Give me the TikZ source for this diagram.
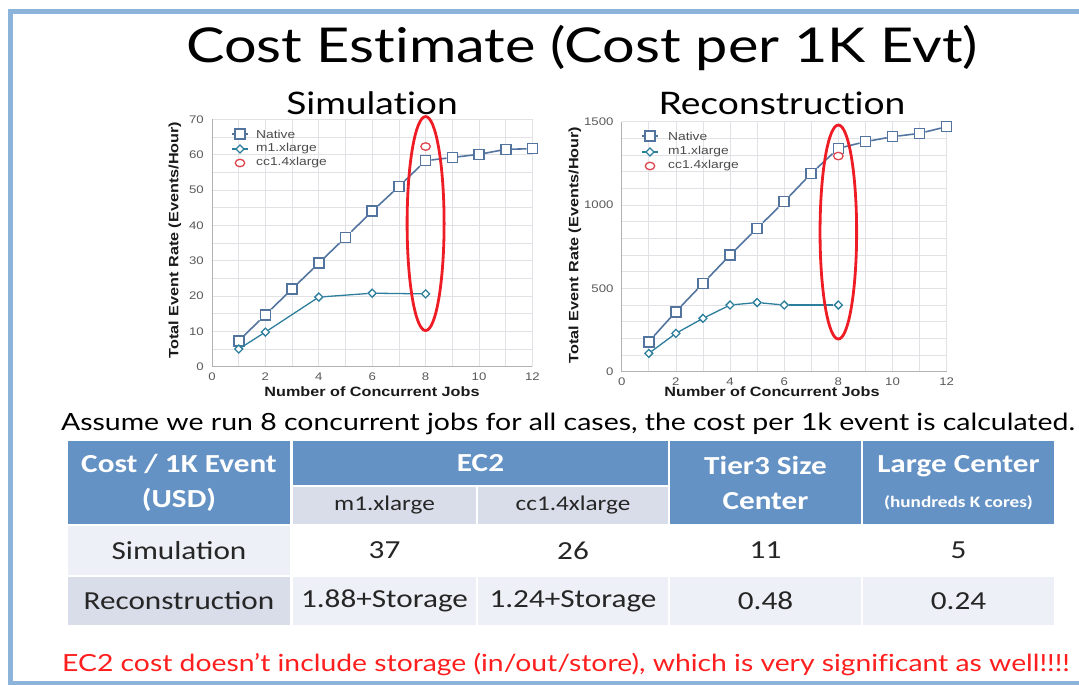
\documentclass[tikz,border=0pt]{standalone}
\usepackage{fontspec}
\setmainfont{Lato}
\newfontfamily\gillfont[FakeStretch=1.2, Ligatures=NoCommon]{Lato}
\newfontfamily\calfont[FakeStretch=1.2]{Carlito}
\newfontfamily\arialfont[FakeStretch=1.2]{Liberation Sans}
\usepackage{tikz}
\usetikzlibrary{shapes.geometric}

\definecolor{framecol}{RGB}{140,180,218}
\definecolor{natcol}{RGB}{84,116,160}
\definecolor{m1col}{RGB}{44,126,156}
\definecolor{cc1col}{RGB}{222,70,80}
\definecolor{ovalred}{RGB}{238,28,36}
\definecolor{gridcol}{RGB}{226,226,230}
\definecolor{hdrblue}{RGB}{101,146,196}
\definecolor{subgray}{RGB}{216,221,233}
\definecolor{rowlight}{RGB}{237,240,246}
\definecolor{warnred}{RGB}{255,30,30}

\begin{document}
\begin{tikzpicture}[x=1pt,y=-1pt,
  natmk/.style={draw=natcol, fill=white, line width=1.6pt, minimum size=10pt, inner sep=0pt},
  m1mk/.style={diamond, draw=m1col, fill=white, line width=1.3pt, minimum size=8.5pt, inner sep=0pt},
  ccmk/.style={ellipse, draw=cc1col, fill=white, line width=1.3pt, minimum width=9.5pt, minimum height=7.5pt, inner sep=0pt},
  natln/.style={natcol, line width=1.6pt},
  m1ln/.style={m1col, line width=1.3pt},
  gridln/.style={gridcol, line width=0.7pt},
  axisln/.style={black!30, line width=0.8pt},
  oval/.style={ellipse, draw=ovalred, line width=2.8pt, inner sep=0pt},
  ticklbl/.style={font=\arialfont\fontsize{11}{11}\selectfont, text=black!65, inner sep=1pt},
  leglbl/.style={font=\arialfont\fontsize{11.5}{12}\selectfont, text=black!70, anchor=west, inner sep=0pt},
  axlbl/.style={font=\arialfont\bfseries\fontsize{13.5}{13.5}\selectfont, text=black!90},
  hdr/.style={fill=hdrblue, draw=white, line width=1.5pt, text=white, align=center, font=\calfont\bfseries\fontsize{26}{35}\selectfont, inner sep=0pt},
  sub/.style={fill=subgray, draw=white, line width=1.5pt, text=black!85, font=\calfont\fontsize{21}{21}\selectfont, inner sep=0pt},
  body/.style={draw=white, line width=1.5pt, text=black!85, font=\calfont\fontsize{26}{26}\selectfont, inner sep=0pt},
]
\useasboundingbox (0,0) rectangle (1079,685);
%\draw[help lines] (0,0) grid (1079,685);
\draw [framecol, line width=5pt] (10,12) rectangle (1110,683);

\node (title) [font=\gillfont\fontsize{48}{48}\selectfont, anchor=base] at (582,63) {Cost Estimate (Cost per 1K Evt)};
\node (simtitle) [font=\gillfont\fontsize{31}{31}\selectfont, anchor=base] at (372,114) {Simulation};
\node (rectitle) [font=\gillfont\fontsize{31}{31}\selectfont, anchor=base] at (782,114) {Reconstruction};

% simulation plot
\begin{scope}[shift={(212,366.7)}, x=26.7pt, y=3.534pt]
\foreach \i in {1,...,12} \draw [gridln] (\i,0) -- (\i,70);
\foreach \j in {5,10,...,70} \draw [gridln] (0,\j) -- (12,\j);
\draw [axisln] (0,70) -- (0,0) -- (12,0);
\foreach \v in {0,10,...,70} \node (sy\v) [ticklbl, anchor=east] at ([xshift=-7pt]0,\v) {\v};
\foreach \v in {0,2,...,12} \node (sx\v) [ticklbl, anchor=north] at ([yshift=-5pt]\v,0) {\v};
\foreach \x/\y [count=\k] in {1/7.3,2/14.7,3/22,4/29.3,5/36.6,6/44,7/51,8/58.3,9/59.2,10/60.1,11/61.5,12/61.7}
  \node (sn\k) [natmk] at (\x,\y) {};
\foreach \k in {1,...,11} {\pgfmathtruncatemacro{\kn}{\k+1} \draw [natln] (sn\k) -- (sn\kn);}
\foreach \x/\y [count=\k] in {1/5,2/9.8,4/19.7,6/20.8,8/20.6}
  \node (sm\k) [m1mk] at (\x,\y) {};
\foreach \k in {1,...,4} {\pgfmathtruncatemacro{\kn}{\k+1} \draw [m1ln] (sm\k) -- (sm\kn);}
\node (sc1) [ccmk] at (8,62.3) {};
\node (soval) [oval, minimum width=37pt, minimum height=214pt] at (8,40.5) {};
\end{scope}
\node (sxlabel) [axlbl] at (372,392) {Number of Concurrent Jobs};
\node (sylabel) [axlbl, rotate=90] at (175,240) {Total Event Rate (Events/Hour)};
\coordinate (sla1) at (232,134); \coordinate (slb1) at (248,134);
\coordinate (sla2) at (232,149); \coordinate (slb2) at (248,149);
\draw [natln] (sla1) -- (slb1);
\draw [m1ln] (sla2) -- (slb2);
\node (sleg1) [natmk] at (240,134) {};
\node (sleg2) [m1mk] at (240,149) {};
\node (sleg3) [ccmk] at (240,163) {};
\node (slt1) [leglbl] at (256,134) {Native};
\node (slt2) [leglbl] at (256,149) {m1.xlarge};
\node (slt3) [leglbl] at (256,163) {cc1.4xlarge};

% reconstruction plot
\begin{scope}[shift={(621.7,371.7)}, x=27.08pt, y=0.16667pt]
\foreach \i in {1,...,12} \draw [gridln] (\i,0) -- (\i,1500);
\foreach \j in {100,200,...,1500} \draw [gridln] (0,\j) -- (12,\j);
\draw [axisln] (0,1500) -- (0,0) -- (12,0);
\foreach \v in {0,500,1000,1500} \node (ry\v) [ticklbl, anchor=east] at ([xshift=-7pt]0,\v) {\v};
\foreach \v in {0,2,...,12} \node (rx\v) [ticklbl, anchor=north] at ([yshift=-5pt]\v,0) {\v};
\foreach \x/\y [count=\k] in {1/180,2/360,3/530,4/700,5/860,6/1020,7/1190,8/1340,9/1380,10/1410,11/1430,12/1470}
  \node (rn\k) [natmk] at (\x,\y) {};
\foreach \k in {1,...,11} {\pgfmathtruncatemacro{\kn}{\k+1} \draw [natln] (rn\k) -- (rn\kn);}
\foreach \x/\y [count=\k] in {1/110,2/230,3/320,4/400,5/415,6/400,8/400}
  \node (rm\k) [m1mk] at (\x,\y) {};
\foreach \k in {1,...,6} {\pgfmathtruncatemacro{\kn}{\k+1} \draw [m1ln] (rm\k) -- (rm\kn);}
\node (rc1) [ccmk] at (8,1294) {};
\node (roval) [oval, minimum width=36.6pt, minimum height=214pt] at (8,838) {};
\end{scope}
\node (rxlabel) [axlbl] at (772,392) {Number of Concurrent Jobs};
\node (rylabel) [axlbl, rotate=90] at (575,245) {Total Event Rate (Events/Hour)};
\coordinate (rla1) at (642,136); \coordinate (rlb1) at (658,136);
\coordinate (rla2) at (642,152); \coordinate (rlb2) at (658,152);
\draw [natln] (rla1) -- (rlb1);
\draw [m1ln] (rla2) -- (rlb2);
\node (rleg1) [natmk] at (650,136) {};
\node (rleg2) [m1mk] at (650,152) {};
\node (rleg3) [ccmk] at (650,166) {};
\node (rlt1) [leglbl] at (668,136) {Native};
\node (rlt2) [leglbl] at (668,152) {m1.xlarge};
\node (rlt3) [leglbl] at (668,166) {cc1.4xlarge};

\node (assume) [font=\gillfont\fontsize{23.7}{23.7}\selectfont, anchor=base] at (568,430) {Assume we run 8 concurrent jobs for all cases, the cost per 1k event is calculated.};

% table
\node (h_cost) [hdr, minimum width=224pt, minimum height=85pt] at (179,482.5) {Cost / 1K Event\\(USD)};
\node (h_ec2) [hdr, minimum width=377pt, minimum height=46pt] at (480.5,463) {EC2};
\node (h_m1) [sub, minimum width=185pt, minimum height=39pt] at (384.5,505.5) {m1.xlarge};
\node (h_cc1) [sub, minimum width=192pt, minimum height=39pt] at (573,505.5) {cc1.4xlarge};
\node (h_t3) [hdr, minimum width=193pt, minimum height=85pt] at (765.5,482.5) {Tier3 Size\\Center};
\node (h_lc) [hdr, minimum width=193pt, minimum height=85pt] at (958.5,482.5) {Large Center\\{\fontsize{16}{16}\selectfont (hundreds K cores)}};
\node (s_name) [body, fill=rowlight, minimum width=224pt, minimum height=51pt] at (179,550.5) {Simulation};
\node (s_m1) [body, fill=white, minimum width=185pt, minimum height=51pt] at (384.5,550.5) {37};
\node (s_cc1) [body, fill=white, minimum width=192pt, minimum height=51pt] at (573,550.5) {26};
\node (s_t3) [body, fill=white, minimum width=193pt, minimum height=51pt] at (765.5,550.5) {11};
\node (s_lc) [body, fill=white, minimum width=193pt, minimum height=51pt] at (958.5,550.5) {5};
\node (r_name) [body, fill=subgray, minimum width=224pt, minimum height=50pt] at (179,601) {Reconstruction};
\node (r_m1) [body, fill=rowlight, minimum width=185pt, minimum height=50pt] at (384.5,601) {1.88+Storage};
\node (r_cc1) [body, fill=rowlight, minimum width=192pt, minimum height=50pt] at (573,601) {1.24+Storage};
\node (r_t3) [body, fill=rowlight, minimum width=193pt, minimum height=50pt] at (765.5,601) {0.48};
\node (r_lc) [body, fill=rowlight, minimum width=193pt, minimum height=50pt] at (958.5,601) {0.24};

\node (warn) [font=\gillfont\fontsize{23.6}{23.6}\selectfont, text=warnred, anchor=base] at (566,671) {EC2 cost doesn’t include storage (in/out/store), which is very significant as well!!!!};
\end{tikzpicture}
\end{document}
